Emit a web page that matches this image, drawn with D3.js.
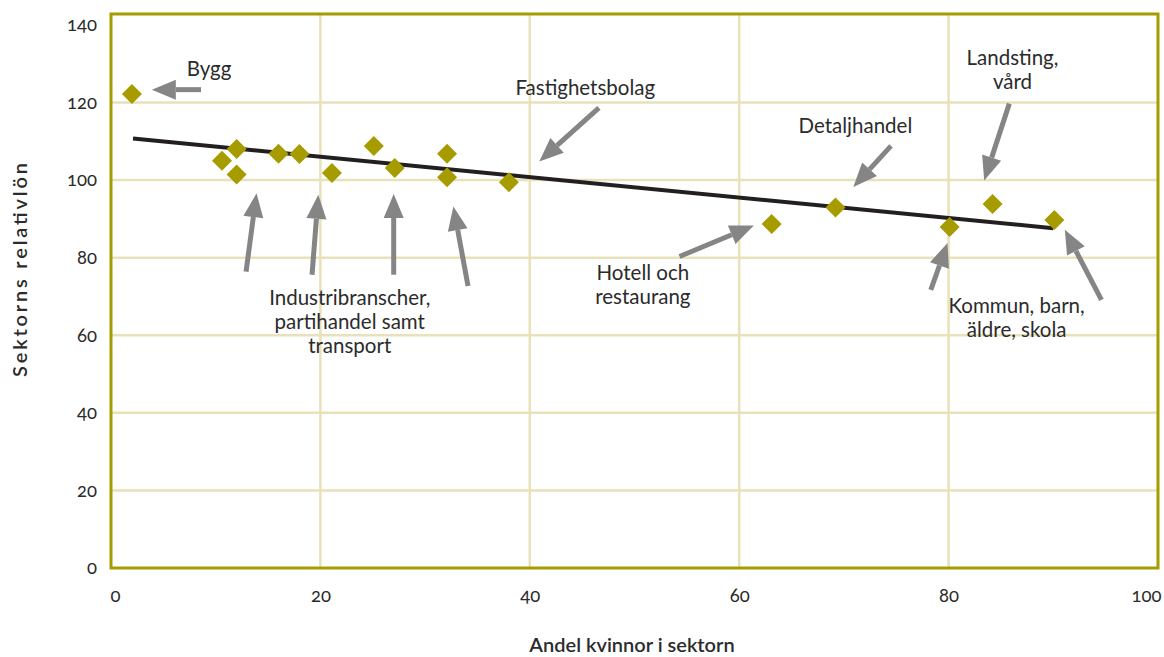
<!DOCTYPE html>
<html lang="sv">
<head>
    <meta charset="utf-8">
    <title>Sektorns relativlön</title>
    <script src="https://d3js.org/d3.v7.min.js"></script>
    <style>
        body { margin: 0; background: #fff; }
        text { font-family: Lato, "Open Sans", sans-serif; fill: #2b2b2b; }
        .tick text { font-size: 18.5px; font-variant-numeric: oldstyle-nums; }
        .note { font-size: 20.5px; }
        .title { font-size: 20px; font-weight: 600; }
    </style>
</head>
<body>
<svg id="chart"></svg>
<script>
    // andel kvinnor (x) och relativlön (y) per sektor
    const shareWomen = [2.0, 10.6, 12.0, 12.0, 16.0, 18.0, 21.1, 25.1, 27.1, 32.1, 32.1, 38.0, 63.1, 69.2, 80.1, 84.2, 90.1];
    const relWage    = [122.2, 105.0, 108.0, 101.4, 106.8, 106.7, 101.8, 108.8, 103.1, 106.8, 100.7, 99.4, 88.7, 92.9, 87.9, 93.8, 89.7];

    // trendlinje
    const trendX = [2.1, 90.0];
    const trendY = [110.7, 87.6];

    const xTicks = [0, 20, 40, 60, 80, 100];
    const yTicks = [0, 20, 40, 60, 80, 100, 120, 140];

    // etiketter (text + ankare i dataenheter)
    const noteLines = [
        ["Bygg"],
        ["Fastighetsbolag"],
        ["Detaljhandel"],
        ["Hotell och", "restaurang"],
        ["Landsting,", "vård"],
        ["Kommun, barn,", "äldre, skola"],
        ["Industribranscher,", "partihandel samt", "transport"]
    ];
    const noteX = [9.36, 45.3, 71.1, 50.8, 86.1, 86.5, 22.8];
    const noteY = [126.9, 122.0, 112.1, 74.3, 129.6, 65.7, 67.8];

    // pilar: från (svans) -> till (spets)
    const arrowFromX = [8.6, 12.9, 19.2, 27.0, 34.1, 46.6, 54.3, 74.5, 85.8, 78.3, 94.6];
    const arrowFromY = [123.3, 76.4, 75.6, 75.6, 72.7, 118.6, 80.3, 108.8, 119.7, 71.7, 69.1];
    const arrowToX   = [3.9, 13.9, 19.8, 27.0, 32.7, 40.9, 61.4, 70.9, 83.4, 79.9, 91.1];
    const arrowToY   = [123.3, 96.6, 96.2, 96.4, 93.2, 104.8, 88.3, 98.2, 99.9, 83.8, 87.2];

    let margin = {top: 14, right: 6, bottom: 89, left: 111},
        width = 1164,
        height = 657,
        chartWidth = width - margin.left - margin.right,
        chartHeight = height - margin.top - margin.bottom;

    let svg = d3.select("#chart")
        .attr("width", width)
        .attr("height", height);

    let x = d3.scaleLinear().domain([0, 100]).range([margin.left, width - margin.right]);
    let y = d3.scaleLinear().domain([0, 142.8]).range([height - margin.bottom, margin.top]);

    const olive = "#a69c00";
    const grid = "#e8e1b9";
    const arrowGrey = "#858585";

    // rutnät
    svg.append("g")
        .selectAll("line")
        .data(yTicks.filter(d => d > 0 && d < 140))
        .join("line")
            .attr("x1", x(0)).attr("x2", x(100))
            .attr("y1", d => y(d)).attr("y2", d => y(d))
            .attr("stroke", grid).attr("stroke-width", 2.5);

    svg.append("g")
        .selectAll("line")
        .data(xTicks.filter(d => d > 0 && d < 100))
        .join("line")
            .attr("x1", d => x(d)).attr("x2", d => x(d))
            .attr("y1", y(0)).attr("y2", margin.top)
            .attr("stroke", grid).attr("stroke-width", 2.5);

    // ram
    svg.append("rect")
        .attr("x", x(0)).attr("y", margin.top)
        .attr("width", x(100) - x(0))
        .attr("height", y(0) - margin.top)
        .attr("fill", "none")
        .attr("stroke", olive)
        .attr("stroke-width", 3);

    // axlar
    let xAxis = svg.append("g")
        .attr("transform", `translate(0,${y(0)})`)
        .call(d3.axisBottom(x).tickValues(xTicks).tickSize(0).tickPadding(21));
    xAxis.select(".domain").remove();
    xAxis.selectAll(".tick text")
        .attr("text-anchor", (d, i) => i === 0 ? "start" : (i === xTicks.length - 1 ? "end" : "middle"))
        .attr("dx", (d, i) => i === 0 ? -1 : (i === xTicks.length - 1 ? 3 : 0));

    let yAxis = svg.append("g")
        .attr("transform", `translate(${x(0)},0)`)
        .call(d3.axisLeft(y).tickValues(yTicks).tickSize(0).tickPadding(14));
    yAxis.select(".domain").remove();

    svg.selectAll(".tick text").attr("fill", "#2b2b2b");

    // axeltitlar
    svg.append("text")
        .attr("class", "title")
        .attr("x", 632).attr("y", 652)
        .attr("text-anchor", "middle")
        .text("Andel kvinnor i sektorn");

    svg.append("text")
        .attr("class", "title")
        .attr("transform", "translate(27,270) rotate(-90)")
        .attr("text-anchor", "middle")
        .attr("textLength", 214)
        .attr("lengthAdjust", "spacing")
        .text("Sektorns relativlön");

    // trendlinje
    svg.append("line")
        .attr("x1", x(trendX[0])).attr("y1", y(trendY[0]))
        .attr("x2", x(trendX[1])).attr("y2", y(trendY[1]))
        .attr("stroke", "#231f20")
        .attr("stroke-width", 4);

    // punkter (romber)
    svg.append("g")
        .selectAll("path")
        .data(shareWomen.map((d, i) => [d, relWage[i]]))
        .join("path")
            .attr("d", d3.symbol().type(d3.symbolSquare).size(200))
            .attr("transform", d => `translate(${x(d[0])},${y(d[1])}) rotate(45)`)
            .attr("fill", olive);

    // pilar
    let arrows = svg.append("g").attr("id", "arrows");
    arrowFromX.forEach((fx, i) => {
        let x1 = x(fx), y1 = y(arrowFromY[i]),
            x2 = x(arrowToX[i]), y2 = y(arrowToY[i]);
        let ang = Math.atan2(y2 - y1, x2 - x1);
        let headLen = 24, headHalf = 10;
        let bx = x2 - headLen * Math.cos(ang), by = y2 - headLen * Math.sin(ang);
        arrows.append("line")
            .attr("x1", x1).attr("y1", y1)
            .attr("x2", bx).attr("y2", by)
            .attr("stroke", arrowGrey)
            .attr("stroke-width", 5);
        let px = -Math.sin(ang), py = Math.cos(ang);
        arrows.append("path")
            .attr("d", `M${x2},${y2}L${bx + px * headHalf},${by + py * headHalf}L${bx - px * headHalf},${by - py * headHalf}Z`)
            .attr("fill", arrowGrey);
    });

    // etiketter
    let notes = svg.append("g").attr("id", "notes");
    noteLines.forEach((lines, i) => {
        let t = notes.append("text")
            .attr("class", "note")
            .attr("text-anchor", "middle")
            .attr("x", x(noteX[i]))
            .attr("y", y(noteY[i]));
        lines.forEach((line, j) => {
            t.append("tspan")
                .attr("x", x(noteX[i]))
                .attr("dy", j === 0 ? 0 : 24)
                .text(line);
        });
    });
</script>
</body>
</html>
